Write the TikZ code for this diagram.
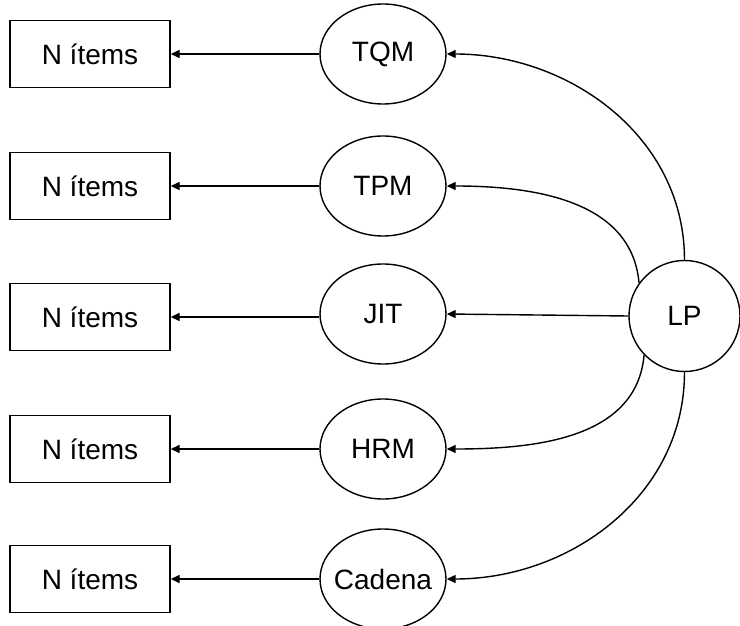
\documentclass[tikz,border=0pt]{standalone}
\usepackage{fontspec}
\setmainfont{Liberation Sans}
\usetikzlibrary{shapes,arrows.meta,positioning}

\begin{document}
\begin{tikzpicture}[x=0.5pt, y=-0.5pt, line width=0.7pt, font=\fontsize{14}{16}\selectfont,
    itembox/.style={draw, rectangle, minimum width=80pt, minimum height=33.5pt, inner sep=0pt},
    tool/.style={draw, ellipse, minimum width=63pt, minimum height=50pt, inner sep=0pt},
    hub/.style={draw, circle, minimum size=55.5pt, inner sep=0pt},
    tip/.style={-{Triangle[length=4.5pt,width=4pt]}}]
    \useasboundingbox (0,0) rectangle (740,626);

    \node[hub] (lp) at (684.5,316) {LP};

    \node[tool] (tqm) at (383,54) {TQM};
    \node[tool] (tpm) at (383,186) {TPM};
    \node[tool] (jit) at (383,314) {JIT};
    \node[tool] (hrm) at (383,449) {HRM};
    \node[tool] (cad) at (383,579) {\makebox[40pt]{Cadena}};

    \node[itembox] (itqm) at (90,54) {N ítems};
    \node[itembox] (itpm) at (90,186) {N ítems};
    \node[itembox] (ijit) at (90,317) {N ítems};
    \node[itembox] (ihrm) at (90,449) {N ítems};
    \node[itembox] (icad) at (90,579) {N ítems};

    \draw[tip] (tqm) -- (itqm);
    \draw[tip] (tpm) -- (itpm);
    \draw[tip] (jit.west |- ijit) -- (ijit);
    \draw[tip] (hrm) -- (ihrm);
    \draw[tip] (cad) -- (icad);

    \draw[tip] (lp.north) to[out=90, in=0] (tqm.east);
    \draw[tip] (lp.144) to[out=95, in=0] (tpm.east);
    \draw[tip] (lp.west) -- (jit.east);
    \draw[tip] (lp.224) to[out=265, in=0] (hrm.east);
    \draw[tip] (lp.south) to[out=270, in=0] (cad.east);
\end{tikzpicture}
\end{document}
